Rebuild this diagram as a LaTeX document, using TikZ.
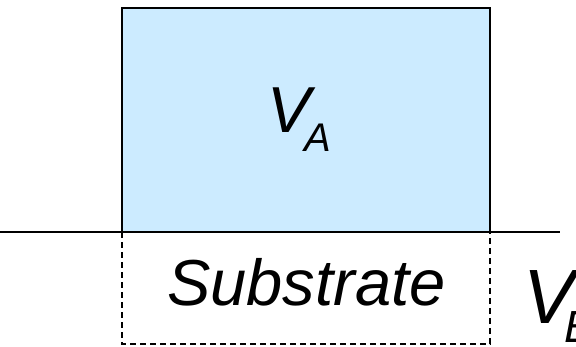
\documentclass[tikz,border=0pt]{standalone}
\usepackage{fontspec}
\setmainfont{Liberation Sans}
\definecolor{lightfill}{HTML}{CCEBFF}
\begin{document}
\begin{tikzpicture}[x=1pt,y=1pt,
  lbl/.style={anchor=base west,inner sep=0pt,font=\itshape},
  solidbox/.style={draw=black,line width=2pt,fill=lightfill},
  dashbox/.style={draw=black,line width=1.3pt,dash pattern=on 6pt off 4pt}]
\useasboundingbox (0,0) rectangle (576,346);
\coordinate (tl) at (122,338);
\coordinate (br) at (490,114);
\coordinate (dbr) at (490,2);
\coordinate (l0) at (0,114);
\coordinate (l1) at (560,114);
\draw[dashbox] (tl |- br) rectangle (dbr);
\draw[solidbox] (tl) rectangle (br);
\draw[line width=1.5pt] (l0) -- (l1);
\node[lbl,font=\itshape\fontsize{65}{65}\selectfont] (va) at (267,213) {V\kern-6pt\raisebox{-19pt}{\fontsize{40}{40}\selectfont A}};
\node[lbl,font=\itshape\fontsize{65}{65}\selectfont] (sub) at (167,41) {Substrate};
\node[lbl,font=\itshape\fontsize{77}{77}\selectfont] (vb) at (523,23) {V\kern-10pt\raisebox{-19pt}{\fontsize{45}{45}\selectfont B}};
\end{tikzpicture}
\end{document}
